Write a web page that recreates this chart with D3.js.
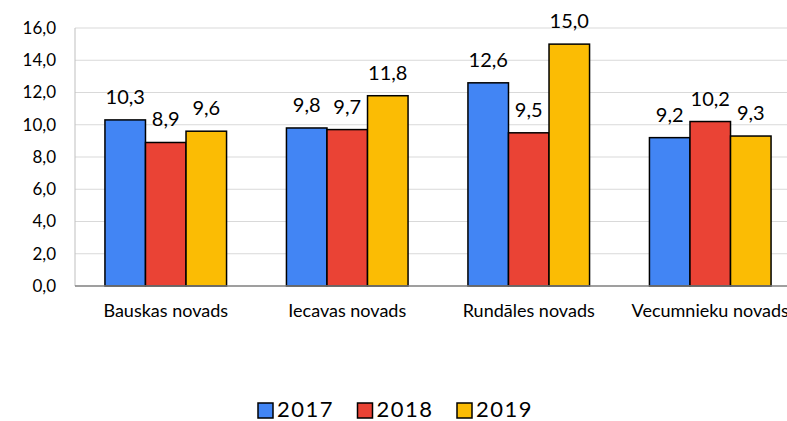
<!DOCTYPE html>
<html>
<head>
<meta charset="utf-8">
<script src="https://cdn.jsdelivr.net/npm/d3@7"></script>
<style>
  body { margin: 0; background: #fff; }
  svg { display: block; overflow: hidden; }
  text { font-family: Lato, "Open Sans", sans-serif; fill: #000; }
</style>
</head>
<body>
<svg id="chart"></svg>
<script>
// dati
const novadi = ["Bauskas novads", "Iecavas novads", "Rundāles novads", "Vecumnieku novads"];
const gadi = ["2017", "2018", "2019"];
const v2017 = [10.3, 9.8, 12.6, 9.2];
const v2018 = [8.9, 9.7, 9.5, 10.2];
const v2019 = [9.6, 11.8, 15.0, 9.3];
const yTicks = [0, 2, 4, 6, 8, 10, 12, 14, 16];
const krasas = ["#4285F4", "#EA4335", "#FBBC04"];

const width = 787;
const height = 421;
const plotLeft = 75, plotTop = 28, plotRight = 801, plotBottom = 286;

var svg = d3.select("#chart")
            .attr("width", width)
            .attr("height", height);

var x0 = d3.scaleBand()
            .domain(novadi)
            .range([plotLeft, plotRight])
            .paddingInner(0.33)
            .paddingOuter(0.165);

var x1 = d3.scaleBand()
            .domain(gadi)
            .range([0, x0.bandwidth()]);

var y = d3.scaleLinear()
            .domain([0, 16])
            .range([plotBottom, plotTop]);

var fmt = function(v) { return d3.format(".1f")(v).replace(".", ","); };

// režģa līnijas
svg.append("g")
    .selectAll("line")
    .data(yTicks.filter(function(d) { return d > 0; }))
    .enter().append("line")
    .attr("x1", plotLeft).attr("x2", plotRight)
    .attr("y1", function(d) { return y(d); })
    .attr("y2", function(d) { return y(d); })
    .attr("stroke", "#d9d9d9")
    .attr("stroke-width", 1);

// y ass
svg.append("line")
    .attr("x1", plotLeft).attr("x2", plotLeft)
    .attr("y1", plotTop).attr("y2", plotBottom)
    .attr("stroke", "#bfbfbf");

svg.append("g")
    .selectAll("text")
    .data(yTicks)
    .enter().append("text")
    .attr("x", 56)
    .attr("y", function(d) { return y(d); })
    .attr("dy", "0.35em")
    .attr("text-anchor", "end")
    .style("font-size", "17px")
    .text(fmt);

// stabiņi
var rows = novadi.map(function(n, i) {
    return { novads: n, vals: [v2017[i], v2018[i], v2019[i]] };
});

var groups = svg.append("g")
    .selectAll("g")
    .data(rows)
    .enter().append("g")
    .attr("transform", function(d) { return "translate(" + x0(d.novads) + ",0)"; });

groups.selectAll("rect")
    .data(function(d) { return d.vals.map(function(v, j) { return { gads: gadi[j], v: v, j: j }; }); })
    .enter().append("rect")
    .attr("x", function(d) { return x1(d.gads); })
    .attr("y", function(d) { return y(d.v); })
    .attr("width", x1.bandwidth())
    .attr("height", function(d) { return y(0) - y(d.v); })
    .attr("fill", function(d) { return krasas[d.j]; })
    .attr("stroke", "#000")
    .attr("stroke-width", 1.5);

groups.selectAll("text")
    .data(function(d) { return d.vals.map(function(v, j) { return { gads: gadi[j], v: v }; }); })
    .enter().append("text")
    .attr("x", function(d) { return x1(d.gads) + x1.bandwidth() / 2; })
    .attr("y", function(d) { return y(d.v) - 16; })
    .attr("text-anchor", "middle")
    .style("font-size", "20px")
    .text(function(d) { return fmt(d.v); });

// x ass
svg.append("line")
    .attr("x1", plotLeft).attr("x2", plotRight)
    .attr("y1", plotBottom).attr("y2", plotBottom)
    .attr("stroke", "#7f7f7f")
    .attr("stroke-width", 1.5);

svg.append("g")
    .selectAll("text")
    .data(novadi)
    .enter().append("text")
    .attr("x", function(d) { return x0(d) + x0.bandwidth() / 2; })
    .attr("y", 311)
    .attr("dy", "0.35em")
    .attr("text-anchor", "middle")
    .style("font-size", "18px")
    .text(function(d) { return d; });

// leģenda
var leg = svg.append("g")
    .selectAll("g")
    .data(gadi)
    .enter().append("g")
    .attr("transform", function(d, i) { return "translate(" + (258 + i * 99.5) + ",403)"; });

leg.append("rect")
    .attr("width", 15).attr("height", 15)
    .attr("fill", function(d, i) { return krasas[i]; })
    .attr("stroke", "#000")
    .attr("stroke-width", 1.5);

leg.append("text")
    .attr("x", 19)
    .attr("y", 14)
    .style("font-size", "22px")
    .style("letter-spacing", "1.5px")
    .text(function(d) { return d; });
</script>
</body>
</html>
